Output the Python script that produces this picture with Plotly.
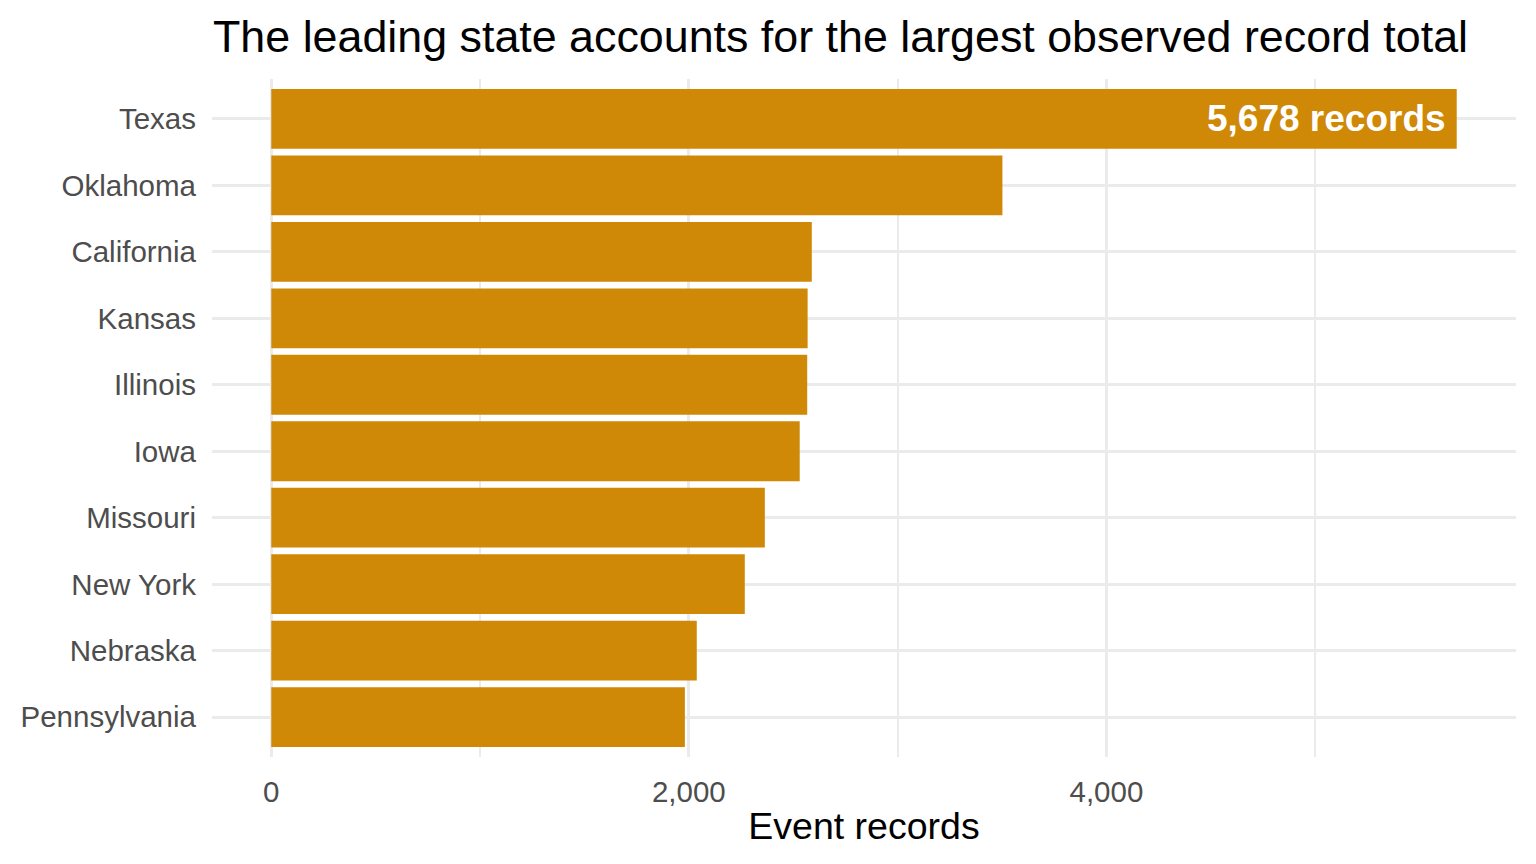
import plotly.graph_objects as go

# data
states = ['Texas', 'Oklahoma', 'California', 'Kansas', 'Illinois',
          'Iowa', 'Missouri', 'New York', 'Nebraska', 'Pennsylvania']
records = [5678, 3502, 2589, 2569, 2567, 2531, 2364, 2268, 2038, 1981]
x_ticks = [0, 2000, 4000]
x_tick_labels = ['0', '2,000', '4,000']

bar_color = '#CF8907'
grid_color = '#EBEBEB'
font_family = 'Liberation Sans, Arial, sans-serif'

top = max(records)
pad = top * 0.05  # ggplot-like expansion

trace = go.Bar(
    x=records, y=states, orientation='h',
    marker=dict(color=bar_color, line=dict(width=0)),
    width=0.9, hoverinfo='x+y',
)

# the page puts the figure 8px in from the corner, margins allow for it
layout = go.Layout(
    width=1536, height=864,
    margin=go.layout.Margin(l=204, r=28, t=71, b=115),
    paper_bgcolor='white', plot_bgcolor='white',
    font=dict(family=font_family, color='#4D4D4D'),
    showlegend=False,
    title=dict(
        text='The leading state accounts for the largest observed record total',
        font=dict(size=44.8, color='black', family=font_family),
        xref='container', x=205 / 1536, xanchor='left',
        yref='container', y=1 - 28 / 864, yanchor='middle',
    ),
    xaxis=dict(
        range=[-pad, top + pad],
        tickvals=x_ticks, ticktext=x_tick_labels,
        tickfont=dict(size=29.5, color='#4D4D4D'),
        ticks='', ticklabelstandoff=14,
        showgrid=True, gridcolor=grid_color, gridwidth=3,
        minor=dict(showgrid=True, gridcolor=grid_color, gridwidth=1.5, dtick=1000, tick0=0),
        zeroline=False, showline=False,
        title=dict(text='Event records', font=dict(size=37.5, color='black'), standoff=6),
    ),
    yaxis=dict(
        categoryorder='array', categoryarray=states,
        range=[len(states) - 0.4, -0.6],
        tickfont=dict(size=29.5, color='#4D4D4D'),
        ticks='', ticklabelstandoff=15,
        showgrid=True, gridcolor=grid_color, gridwidth=3,
        zeroline=False, showline=False,
    ),
    annotations=[dict(
        x=top, y=states[0], xref='x', yref='y',
        text=f'<b>{top:,} records</b>', showarrow=False,
        xanchor='right', xshift=-9, yanchor='middle',
        font=dict(size=37, color='white', family=font_family),
    )],
)

fig = go.Figure(data=[trace], layout=layout)
fig.write_html('out.html')
